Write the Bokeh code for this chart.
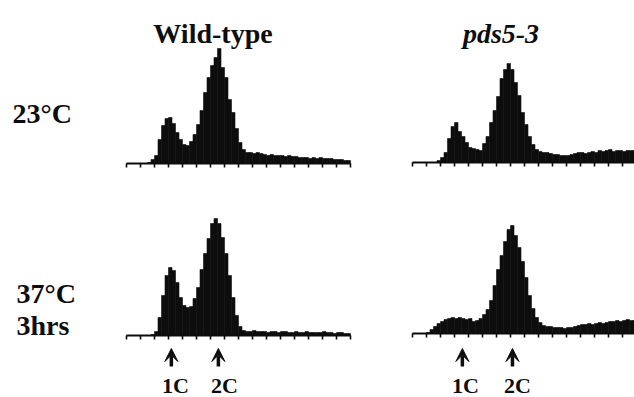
from bokeh.plotting import figure
from bokeh.models import Range1d, Arrow, VeeHead
from bokeh.core.properties import value
from bokeh.embed import file_html
from bokeh.resources import INLINE

# ---------------- data ----------------
channel_max = 1024
bin_width = 16
bin_edges = list(range(0, channel_max + 1, bin_width))   # 64 bins of DNA content (FL2 channel)
tick_values = list(range(0, channel_max + 1, 64))

# cell counts per bin (arbitrary units)
wt_23c = [0, 0, 0, 0, 0, 0, 1, 4, 8, 24, 38, 45, 46, 40, 31, 24,
          19, 18, 22, 29, 39, 53, 71, 86, 98, 106, 115, 96, 86, 64, 51, 35,
          21, 14, 11, 11, 10, 11, 10, 9, 8, 9, 8, 8, 8, 7, 8, 7,
          7, 6, 6, 6, 5, 6, 5, 6, 5, 5, 5, 4, 4, 4, 3, 3]
pds_23c = [0, 0, 0, 0, 0, 0, 0, 2, 5, 10, 24, 36, 40, 31, 26, 20,
           15, 14, 13, 12, 19, 26, 40, 52, 66, 84, 93, 99, 93, 80, 67, 50,
           38, 26, 18, 13, 11, 10, 10, 9, 8, 8, 7, 7, 7, 8, 9, 10,
           10, 9, 10, 11, 10, 12, 11, 12, 13, 11, 12, 12, 11, 12, 12, 12]
wt_37c = [0, 0, 0, 0, 0, 0, 0, 1, 4, 18, 40, 60, 68, 65, 53, 38,
          30, 28, 29, 37, 48, 66, 82, 97, 112, 117, 112, 98, 82, 60, 38, 20,
          9, 5, 4, 4, 5, 4, 4, 4, 3, 4, 4, 3, 4, 4, 3, 3,
          4, 3, 3, 4, 3, 3, 3, 3, 4, 3, 3, 2, 3, 3, 2, 2]
pds_37c = [0, 0, 0, 0, 1, 4, 7, 10, 12, 14, 15, 16, 15, 16, 15, 14,
           15, 12, 13, 15, 19, 24, 33, 48, 64, 78, 92, 104, 108, 98, 86, 72,
           56, 38, 25, 16, 11, 8, 7, 7, 6, 6, 6, 5, 6, 6, 7, 8,
           9, 9, 10, 9, 10, 11, 10, 11, 12, 12, 13, 12, 13, 14, 13, 13]

column_titles = ["Wild-type", "pds5-3"]
row_labels = ["23°C", "37°C", "3hrs"]
peak_labels = ["1C", "2C"]
wt_37c_peak_channels = [205, 420]
pds_37c_peak_channels = [228, 457]
wt_37c_label_channels = [224, 448]
pds_37c_label_channels = [242, 480]

# ---------------- layout ----------------
W, H = 634, 397
PX_PER_CH = 224 / channel_max
FONT = value("Liberation Serif")
INK = "#0d0d0d"

p = figure(width=W, height=H, x_range=Range1d(0, W), y_range=Range1d(H, 0),
           output_backend="svg", toolbar_location=None, min_border=0,
           x_axis_location=None, y_axis_location=None,
           outline_line_color=None, background_fill_color="white")
p.xgrid.visible = False
p.ygrid.visible = False

# panel name -> (left edge px, baseline px from top, counts)
panels = {
    "wt23": (126, 163, wt_23c),
    "pds23": (412, 162, pds_23c),
    "wt37": (126, 335, wt_37c),
    "pds37": (412, 333, pds_37c),
}

for name, (L, B, counts) in panels.items():
    p.extra_x_ranges[name] = Range1d(-L / PX_PER_CH, (W - L) / PX_PER_CH)
    p.extra_y_ranges[name] = Range1d(-(H - B), B)
    p.quad(left=bin_edges[:-1], right=bin_edges[1:], bottom=0, top=counts,
           fill_color=INK, line_color=INK, line_width=0.6,
           x_range_name=name, y_range_name=name)
    p.segment(x0=[0], y0=[0], x1=[channel_max], y1=[0], line_color=INK,
              line_width=2, x_range_name=name, y_range_name=name)
    p.segment(x0=tick_values, y0=[0] * len(tick_values), x1=tick_values,
              y1=[-4] * len(tick_values), line_color=INK, line_width=1.6,
              x_range_name=name, y_range_name=name)

# peak arrows and labels under the 37°C panels
for name, marks, lab_x, tip, tail, lab_y in [
        ("wt37", wt_37c_peak_channels, wt_37c_label_channels, -13, -31, -50),
        ("pds37", pds_37c_peak_channels, pds_37c_label_channels, -15, -33, -52)]:
    for c in marks:
        p.add_layout(Arrow(end=VeeHead(size=13, fill_color=INK, line_color=INK,
                                       line_width=1),
                           x_start=c, y_start=tail, x_end=c, y_end=tip,
                           line_color=INK, line_width=3.5,
                           x_range_name=name, y_range_name=name))
    p.text(x=lab_x, y=[lab_y] * len(lab_x), text=peak_labels,
           x_range_name=name, y_range_name=name,
           text_font=FONT, text_font_style="bold", text_font_size="22px",
           text_color=INK, text_align="center", text_baseline="alphabetic")

# column titles
p.text(x=[212.5], y=[33], text=[column_titles[0]], text_font=FONT,
       text_font_style="bold", text_font_size="28px", text_color=INK,
       text_align="center", text_baseline="alphabetic")
p.text(x=[500.5], y=[33], text=[column_titles[1]], text_font=FONT,
       text_font_style="bold italic", text_font_size="28px", text_color=INK,
       text_align="center", text_baseline="alphabetic")

# row labels
p.text(x=[12, 16, 16], y=[113, 293, 325], text=row_labels, text_font=FONT,
       text_font_style="bold", text_font_size="28px", text_color=INK,
       text_align="left", text_baseline="alphabetic")

open("out.html", "w").write(file_html(p, INLINE))
